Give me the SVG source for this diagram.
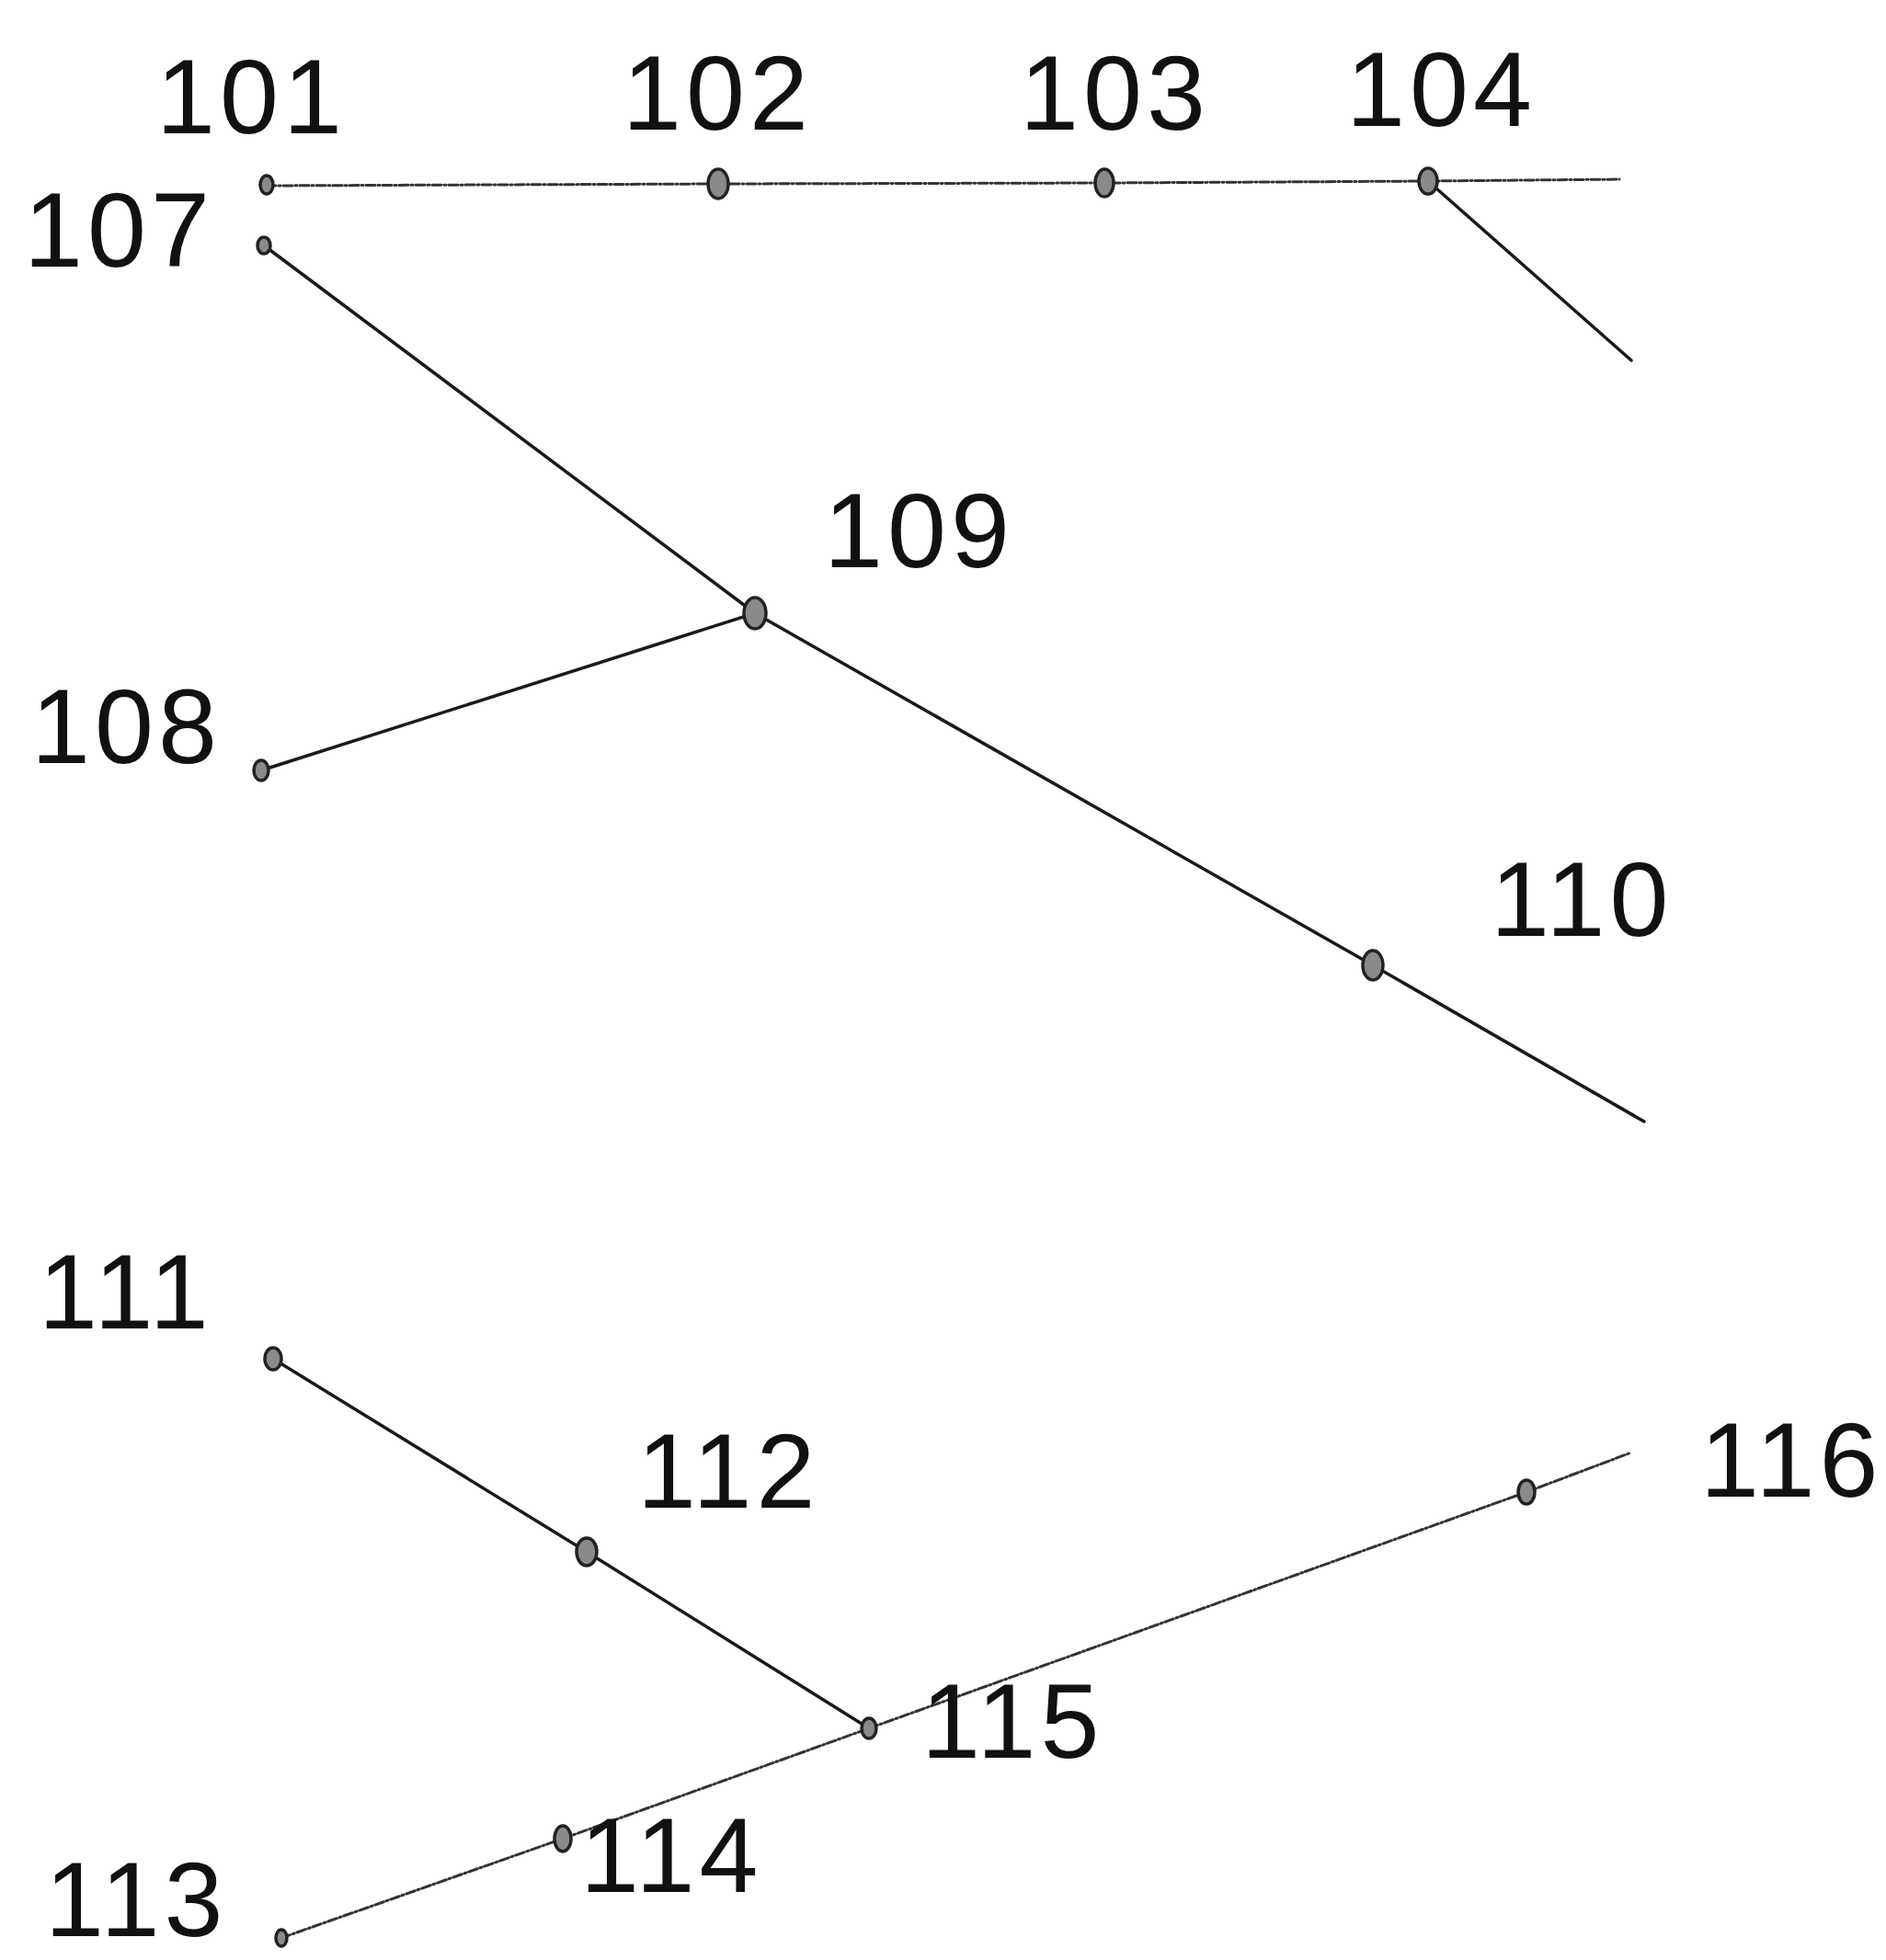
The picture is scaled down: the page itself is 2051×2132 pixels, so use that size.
<svg xmlns="http://www.w3.org/2000/svg" width="2051" height="2132" viewBox="0 0 2051 2132">
<style>
.lbl{font-family:"Liberation Sans",Arial,sans-serif;font-size:115px;fill:#111;letter-spacing:5px}
.ln{fill:none;stroke:#1a1a1a;stroke-width:3.5;stroke-linecap:round;stroke-linejoin:round}
.ln2{fill:none;stroke:#333;stroke-width:3;stroke-linecap:round;stroke-dasharray:10 3 2 3}
.nd{fill:#8a8a8a;stroke:#222;stroke-width:3.5}
</style>
<rect width="2051" height="2132" fill="#fff"/>
<g id="connectors">
<polyline class="ln2" points="290,202 781,200 1201,199 1553,197 1761,195"/>
<line class="ln" x1="1553" y1="197" x2="1774" y2="392"/>
<polyline class="ln" points="287,267 821,667 1493,1050 1788,1220"/>
<line class="ln" x1="284" y1="838" x2="821" y2="667"/>
<polyline class="ln" points="297,1478 638,1688 945,1880"/>
<polyline class="ln2" points="306,2108 612,2000 945,1880"/>
<polyline class="ln2" points="945,1880 1660,1623 1774,1580"/>
</g>
<g id="n101"><ellipse class="nd" cx="290" cy="201" rx="7" ry="10"/><text class="lbl" x="170" y="145">101</text></g>
<g id="n102"><ellipse class="nd" cx="781" cy="200" rx="11" ry="16"/><text class="lbl" x="677" y="141">102</text></g>
<g id="n103"><ellipse class="nd" cx="1201" cy="199" rx="10" ry="15"/><text class="lbl" x="1109" y="141">103</text></g>
<g id="n104"><ellipse class="nd" cx="1553" cy="197" rx="10" ry="14"/><text class="lbl" x="1464" y="137">104</text></g>
<g id="n107"><ellipse class="nd" cx="287" cy="267" rx="7" ry="9"/><text class="lbl" x="26" y="290">107</text></g>
<g id="n108"><ellipse class="nd" cx="284" cy="838" rx="8" ry="11"/><text class="lbl" x="34" y="830">108</text></g>
<g id="n109"><ellipse class="nd" cx="821" cy="667" rx="12" ry="17"/><text class="lbl" x="896" y="617">109</text></g>
<g id="n110"><ellipse class="nd" cx="1493" cy="1050" rx="11" ry="16"/><text class="lbl" x="1621" y="1018">110</text></g>
<g id="n111"><ellipse class="nd" cx="297" cy="1478" rx="9" ry="12"/><text class="lbl" x="42" y="1445">111</text></g>
<g id="n112"><ellipse class="nd" cx="638" cy="1688" rx="11" ry="15"/><text class="lbl" x="693" y="1640">112</text></g>
<g id="n113"><ellipse class="nd" cx="306" cy="2108" rx="6" ry="9"/><text class="lbl" x="49" y="2106">113</text></g>
<g id="n114"><ellipse class="nd" cx="612" cy="2000" rx="9" ry="14"/><text class="lbl" x="631" y="2058">114</text></g>
<g id="n115"><ellipse class="nd" cx="945" cy="1880" rx="8" ry="11"/><text class="lbl" x="1002" y="1912">115</text></g>
<g id="n116"><ellipse class="nd" cx="1660" cy="1623" rx="9" ry="13"/><text class="lbl" x="1849" y="1628">116</text></g>
</svg>
